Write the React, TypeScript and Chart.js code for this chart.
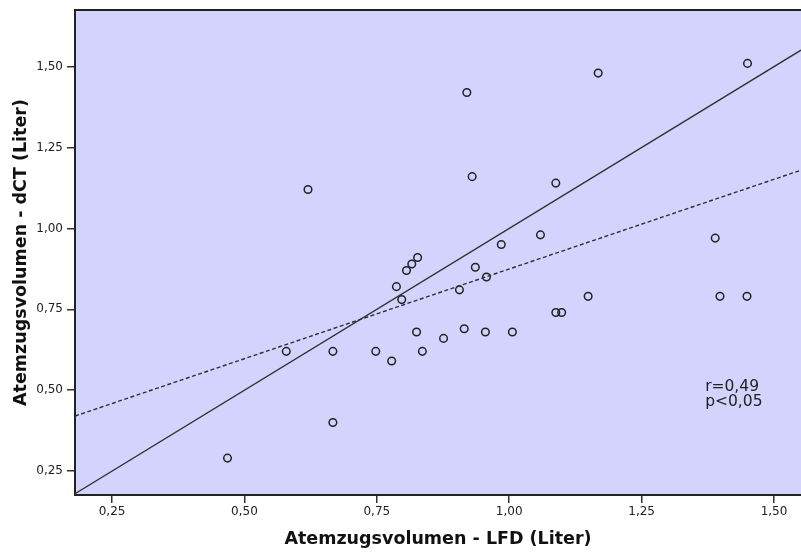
import { useEffect, useRef } from "react";
import { Chart, registerables } from "chart.js";

Chart.register(...registerables);

// Data
const lfdLiter = [
  0.92, 1.168, 1.45, 0.62, 0.93, 1.088, 1.059, 1.389, 0.985, 0.827,
  0.816, 0.806, 0.936, 0.957, 0.787, 0.906, 0.797, 1.149, 1.398, 1.449,
  1.088, 1.099, 0.825, 0.915, 0.955, 1.006, 0.876, 0.579, 0.667, 0.748,
  0.836, 0.778, 0.667, 0.468,
];
const dctLiter = [
  1.42, 1.48, 1.51, 1.12, 1.16, 1.14, 0.98, 0.97, 0.95, 0.91,
  0.89, 0.87, 0.88, 0.85, 0.82, 0.81, 0.78, 0.79, 0.79, 0.79,
  0.74, 0.74, 0.68, 0.69, 0.68, 0.68, 0.66, 0.62, 0.62, 0.62,
  0.62, 0.59, 0.40, 0.29,
];

const xTicks = [0.25, 0.5, 0.75, 1.0, 1.25, 1.5];
const yTicks = [0.25, 0.5, 0.75, 1.0, 1.25, 1.5];
const xRange = [0.18, 1.551];
const yRange = [0.176, 1.675];

// Reference lines (endpoints)
const identityLineX = [0.18, 1.551];
const identityLineY = [0.18, 1.551];
const fitLineX = [0.18, 1.551];
const fitLineY = [0.42, 1.18];

const xTitle = "Atemzugsvolumen - LFD (Liter)";
const yTitle = "Atemzugsvolumen - dCT (Liter)";
const statsText = ["r=0,49", "p<0,05"];
const statsAnchor = [1.37, 0.497];

const BG = "rgb(211,211,253)";
const INK = "#222222";
const FONT = "'DejaVu Sans', sans-serif";

const fmt = (v: number) => v.toFixed(2).replace(".", ",");

export default function App() {
  const ref = useRef<HTMLCanvasElement | null>(null);

  useEffect(() => {
    if (!ref.current) return;

    const framePlugin = {
      id: "frame",
      beforeDraw(chart: any) {
        const { ctx, chartArea: a } = chart;
        ctx.save();
        ctx.fillStyle = "#ffffff";
        ctx.fillRect(0, 0, chart.width, chart.height);
        ctx.fillStyle = BG;
        ctx.fillRect(a.left, a.top, a.right - a.left, a.bottom - a.top);
        ctx.restore();
      },
      afterDraw(chart: any) {
        const { ctx, chartArea: a } = chart;
        ctx.save();
        ctx.strokeStyle = INK;
        ctx.lineWidth = 2;
        ctx.beginPath();
        ctx.moveTo(a.left - 1, a.top);
        ctx.lineTo(a.right, a.top);
        ctx.stroke();

        const xs = chart.scales.x;
        const ys = chart.scales.y;
        const px = xs.getPixelForValue(statsAnchor[0]);
        const py = ys.getPixelForValue(statsAnchor[1]);
        ctx.fillStyle = INK;
        ctx.font = `15.5px ${FONT}`;
        ctx.textAlign = "left";
        ctx.textBaseline = "alphabetic";
        statsText.forEach((t, i) => ctx.fillText(t, px, py + i * 15));
        ctx.restore();
      },
    };

    const points = lfdLiter.map((x, i) => ({ x, y: dctLiter[i] }));
    const identity = identityLineX.map((x, i) => ({ x, y: identityLineY[i] }));
    const fit = fitLineX.map((x, i) => ({ x, y: fitLineY[i] }));

    const chart = new Chart(ref.current, {
      type: "scatter",
      data: {
        datasets: [
          {
            data: identity,
            showLine: true,
            borderColor: "#303030",
            borderWidth: 1.4,
            pointRadius: 0,
            fill: false,
          },
          {
            data: fit,
            showLine: true,
            borderColor: "#303030",
            borderWidth: 1.4,
            borderDash: [4, 2.5],
            pointRadius: 0,
            fill: false,
          },
          {
            data: points,
            pointRadius: 3.8,
            pointBorderWidth: 1.5,
            pointBorderColor: INK,
            pointBackgroundColor: "rgba(0,0,0,0)",
            showLine: false,
          },
        ],
      },
      options: {
        responsive: false,
        animation: false,
        layout: { autoPadding: false, padding: { top: 10, left: 0, right: 0, bottom: 0 } },
        plugins: {
          legend: { display: false },
          tooltip: { enabled: false },
        },
        scales: {
          x: {
            type: "linear",
            min: xRange[0],
            max: xRange[1],
            afterFit: (s: any) => {
              s.height = 57;
              s.paddingLeft = 0;
              s.paddingRight = 0;
            },
            afterBuildTicks: (s: any) => {
              s.ticks = xTicks.map((v) => ({ value: v }));
            },
            grid: {
              display: true,
              drawOnChartArea: false,
              drawTicks: true,
              tickLength: 8,
              color: "#333333",
              lineWidth: 1.5,
            },
            border: { display: true, color: INK, width: 2 },
            ticks: {
              padding: 2,
              color: INK,
              font: { family: FONT, size: 12 },
              maxRotation: 0,
              callback: (v: any) => fmt(Number(v)),
            },
            title: {
              display: true,
              text: xTitle,
              color: "#111111",
              font: { family: FONT, size: 17.5, weight: "bold" },
              padding: { top: 0, bottom: 2 },
            },
          },
          y: {
            type: "linear",
            min: yRange[0],
            max: yRange[1],
            afterFit: (s: any) => {
              s.width = 75;
              s.paddingTop = 0;
              s.paddingBottom = 0;
            },
            afterBuildTicks: (s: any) => {
              s.ticks = yTicks.map((v) => ({ value: v }));
            },
            grid: {
              display: true,
              drawOnChartArea: false,
              drawTicks: true,
              tickLength: 8,
              color: "#333333",
              lineWidth: 1.5,
            },
            border: { display: true, color: INK, width: 2 },
            ticks: {
              padding: 4,
              color: INK,
              font: { family: FONT, size: 12 },
              callback: (v: any) => fmt(Number(v)),
            },
            title: {
              display: true,
              text: yTitle,
              color: "#111111",
              font: { family: FONT, size: 17.5, weight: "bold" },
              padding: { top: 11, bottom: 0 },
            },
          },
        },
      },
      plugins: [framePlugin],
    });

    return () => chart.destroy();
  }, []);

  return (
    <div style={{ position: "fixed", left: 0, top: 0, width: 801, height: 552, background: "#fff" }}>
      <canvas ref={ref} width={801} height={552} style={{ display: "block", width: 801, height: 552 }} />
    </div>
  );
}
